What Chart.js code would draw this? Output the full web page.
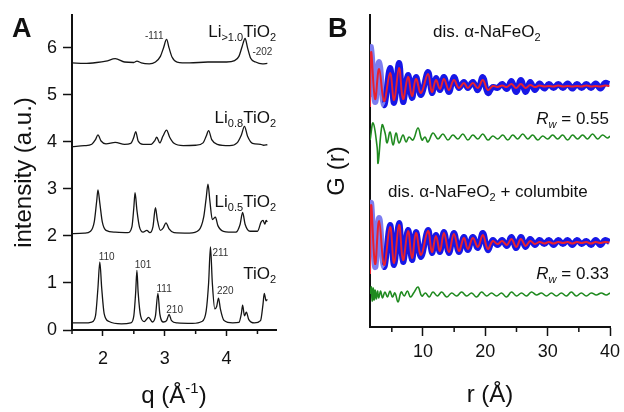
<!DOCTYPE html>
<html>
<head>
<meta charset="utf-8">
<script src="https://cdn.jsdelivr.net/npm/chart.js@4.4.1/dist/chart.umd.min.js"></script>
<style>
  html, body { margin: 0; padding: 0; background: #fff; }
  #wrap { position: relative; width: 624px; height: 412px; }
  canvas { position: absolute; top: 0; }
  #chartA { left: 0; }
  #chartB { left: 300px; }
</style>
</head>
<body>
<div id="wrap">
  <canvas id="chartA" width="300" height="412"></canvas>
  <canvas id="chartB" width="324" height="412"></canvas>
</div>
<script>
// ---- panel A : diffraction patterns (q in 1/Å, stacked intensity) ----
const tio2Q = [1.5,1.7,1.82,1.88,1.92,1.95,1.98,2.02,2.1,2.3,2.45,2.5,2.53,2.55,2.57,2.61,2.67,2.74,2.8,2.85,2.89,2.92,2.98,3.03,3.07,3.11,3.2,3.45,3.6,3.67,3.71,3.74,3.77,3.81,3.84,3.87,3.9,3.96,4.1,4.2,4.24,4.26,4.29,4.32,4.36,4.45,4.55,4.59,4.61,4.64,4.66];
const tio2I = [0.15,0.15,0.17,0.3,0.9,1.45,0.9,0.35,0.18,0.13,0.15,0.3,0.8,1.27,0.8,0.3,0.18,0.27,0.17,0.3,0.78,0.35,0.17,0.2,0.33,0.2,0.15,0.14,0.18,0.4,1.0,1.77,1.0,0.45,0.5,0.68,0.45,0.2,0.15,0.16,0.35,0.53,0.3,0.38,0.22,0.15,0.2,0.55,0.78,0.62,0.65];

const li05Q = [1.5,1.7,1.8,1.86,1.9,1.92,1.95,1.99,2.05,2.2,2.4,2.47,2.5,2.52,2.55,2.59,2.65,2.71,2.76,2.81,2.85,2.88,2.93,2.98,3.02,3.07,3.15,3.4,3.55,3.63,3.67,3.7,3.73,3.77,3.82,3.86,3.95,4.15,4.22,4.26,4.3,4.38,4.5,4.56,4.59,4.62,4.64,4.66];
const li05I = [2.05,2.06,2.1,2.3,2.75,2.98,2.7,2.3,2.12,2.08,2.07,2.2,2.6,2.92,2.55,2.2,2.08,2.12,2.07,2.2,2.6,2.35,2.12,2.18,2.28,2.15,2.07,2.06,2.12,2.4,2.8,3.1,2.75,2.35,2.4,2.22,2.1,2.08,2.25,2.5,2.25,2.1,2.1,2.3,2.33,2.25,2.33,2.3];

const li08Q = [1.5,1.7,1.82,1.88,1.92,1.97,2.05,2.2,2.35,2.45,2.5,2.53,2.57,2.65,2.78,2.84,2.87,2.92,2.97,3.03,3.08,3.15,3.3,3.5,3.62,3.67,3.71,3.76,3.85,4.05,4.17,4.24,4.29,4.34,4.42,4.55,4.6,4.66];
const li08I = [3.9,3.92,3.95,4.05,4.15,4.02,3.96,3.99,3.95,3.97,4.1,4.22,4.02,3.95,3.95,4.03,4.1,3.98,4.12,4.25,4.1,3.97,3.92,3.93,3.98,4.12,4.24,4.05,3.95,3.92,3.98,4.15,4.33,4.12,3.97,3.95,3.93,3.94];

const li10Q = [1.5,1.7,1.9,2.05,2.2,2.35,2.5,2.55,2.62,2.75,2.85,2.93,2.98,3.03,3.07,3.12,3.2,3.4,3.7,4.0,4.13,4.2,4.25,4.3,4.34,4.39,4.47,4.58,4.66];
const li10I = [5.68,5.67,5.69,5.72,5.77,5.7,5.69,5.72,5.68,5.66,5.7,5.82,6.0,6.18,6.0,5.8,5.7,5.68,5.7,5.7,5.73,5.82,6.02,6.2,6.0,5.78,5.7,5.66,5.67];

const qTicks = [1.5, 2, 2.5, 3, 3.5, 4, 4.5];
const intensityTicks = [0, 1, 2, 3, 4, 5, 6];

// ---- panel B : PDF G(r), data (blue), fit (red), difference (green), offset vertically ----
const rFit = [1.5,1.68,2.32,2.96,3.76,4.72,5.36,6.16,6.8,7.6,8.24,8.88,9.68,10.8,11.44,12.08,12.72,13.36,14.16,14.96,15.76,16.56,17.2,18.0,18.8,19.6,20.4,21.2,21.95,22.7,23.45,24.2,24.95,25.7,26.45,27.2,27.95,28.7,29.45,30.2,30.95,31.7,32.45,33.2,33.95,34.7,35.45,36.2,36.95,37.7,38.45,39.2,39.9];
const gTopData = [23.0,28.0,22.5,26.5,22.2,25.9,22.4,26.4,22.5,25.2,22.9,25.0,23.2,25.5,23.4,24.9,23.7,25.0,23.5,25.0,23.9,24.5,23.9,24.5,23.7,25.0,23.4,24.0,23.9,24.3,23.8,24.6,23.5,24.7,23.5,24.5,23.7,24.35,23.85,24.3,23.9,24.3,23.9,24.35,23.85,24.3,23.9,24.3,23.9,24.35,23.85,24.4,24.3];
const gTopFit = [22.0,27.5,22.8,25.8,22.6,25.4,22.7,25.9,22.8,25.0,23.1,24.8,23.4,25.3,23.5,24.7,23.8,24.8,23.7,24.7,23.9,24.4,23.9,24.4,23.9,24.7,23.7,24.1,24.0,24.15,24.0,24.3,23.9,24.3,23.9,24.2,24.0,24.15,24.05,24.1,24.05,24.15,24.05,24.1,24.05,24.1,24.05,24.15,24.05,24.1,24.05,24.15,24.1];
const gBotData = [8.0,12.4,6.0,10.9,6.0,10.2,6.2,10.4,6.5,9.7,6.7,9.5,7.0,9.7,7.4,9.2,7.5,9.5,7.4,9.4,7.5,9.0,7.7,9.0,7.9,9.4,7.7,8.7,8.2,8.7,8.1,9.0,7.9,9.0,8.0,8.8,8.2,8.7,8.3,8.7,8.2,8.7,8.3,8.7,8.2,8.7,8.3,8.6,8.2,8.7,8.2,8.7,8.5];
const gBotFit = [5.3,12.2,6.3,10.6,6.2,10.0,6.4,10.2,6.7,9.6,6.9,9.4,7.2,9.6,7.5,9.1,7.6,9.4,7.5,9.3,7.6,8.9,7.8,8.9,8.0,9.2,7.8,8.6,8.3,8.6,8.2,8.8,8.0,8.8,8.1,8.6,8.3,8.5,8.35,8.5,8.35,8.5,8.4,8.5,8.35,8.5,8.4,8.5,8.35,8.5,8.4,8.5,8.45];

const rDiffTop = [1.52,2.0,2.64,2.8,3.44,3.92,4.24,4.72,5.2,5.68,6.16,6.8,7.28,7.76,8.4,9.2,9.84,10.32,10.8,11.6,12.4,13.2,14.0,14.8,15.6,16.4,17.2,18.0,18.8,19.6,20.4,21.2,22.0,22.8,23.6,24.4,25.2,26.0,26.8,27.6,28.4,29.2,30.0,30.8,31.6,32.4,33.2,34.0,34.8,35.6,36.4,37.2,38.0,38.8,39.6,40.0];
const gDiffTop = [18.7,20.4,18.0,16.4,20.2,19.4,18.4,19.5,18.2,19.4,18.4,19.2,18.5,19.0,18.7,19.9,18.7,19.0,18.5,19.4,18.8,19.3,18.7,19.2,18.8,19.3,18.7,19.2,18.8,19.3,18.7,19.1,18.8,19.2,18.7,19.2,18.8,19.3,18.8,19.2,18.7,19.1,18.8,19.2,18.8,19.2,18.7,19.2,18.8,19.2,18.8,19.3,18.8,19.2,18.9,19.1];
const rDiffBot = [1.55,1.7,1.85,2.0,2.15,2.3,2.5,2.7,2.9,3.2,3.5,3.9,4.3,4.7,5.1,5.5,6.0,6.5,7.0,7.5,8.0,8.5,9.2,9.8,10.4,11.0,11.6,12.3,13.0,13.8,14.6,15.4,16.2,17.0,17.8,18.6,19.4,20.2,21.0,21.8,22.6,23.4,24.2,25.0,25.8,26.6,27.4,28.2,29.0,29.8,30.6,31.4,32.2,33.0,33.8,34.6,35.4,36.2,37.0,37.8,38.6,39.4,40.0];
const gDiffBot = [3.3,4.0,2.6,3.9,2.7,3.7,2.8,3.6,2.9,3.6,2.9,3.5,3.0,3.6,3.0,3.4,2.5,3.5,3.1,3.6,3.0,3.4,4.0,3.1,3.4,3.0,3.5,3.1,3.5,3.0,3.4,3.1,3.5,3.1,3.4,3.0,3.5,3.1,3.4,3.1,3.4,3.0,3.5,3.1,3.4,3.1,3.5,3.2,3.4,3.1,3.4,3.1,3.4,3.1,3.5,3.1,3.4,3.1,3.4,3.2,3.4,3.2,3.4];

const rTicks = [5, 10, 15, 20, 25, 30, 35, 40];

// ---- text annotations ----
const FAM = '"Liberation Sans", Arial, sans-serif';
const font = (size, style) => (style ? style + ' ' : '') + size + 'px ' + FAM;

Chart.defaults.font.family = FAM;
Chart.defaults.color = '#111';

const sampleNames = ['TiO_{2}', 'Li_{0.5}TiO_{2}', 'Li_{0.8}TiO_{2}', 'Li_{>1.0}TiO_{2}'];
const sampleNameI = [1.09, 2.62, 4.40, 6.23];
const hklLabels = ['110', '101', '111', '210', '211', '220', '-111', '-202'];
const hklQ = [2.06, 2.65, 2.99, 3.16, 3.90, 3.98, 2.83, 4.58];
const hklI = [1.49, 1.32, 0.81, 0.36, 1.57, 0.77, 6.19, 5.85];

const fitTitles = ['dis. α-NaFeO_{2}', 'dis. α-NaFeO_{2} + columbite'];
const fitTitleR = [11.6, 4.4];
const fitTitleG = [29.0, 13.0];
const rwValues = ['0.55', '0.33'];
const rwG = [20.3, 4.8];

// split "abc_{sub}^{sup}" into runs of text
function rich(s, big, small, style) {
  const runs = [];
  const re = /_\{([^}]*)\}|\^\{([^}]*)\}|([^_^]+)/g;
  let m;
  while ((m = re.exec(s))) {
    if (m[1] !== undefined) runs.push({ text: m[1], font: font(small, style), dy: Math.round(big * 0.25) });
    else if (m[2] !== undefined) runs.push({ text: m[2], font: font(small, style), dy: -Math.round(big * 0.42) });
    else runs.push({ text: m[3], font: font(big, style), dy: 0 });
  }
  return runs;
}

function drawRuns(ctx, runs, x, y, align) {
  let total = 0;
  runs.forEach(r => { ctx.font = r.font; r.w = ctx.measureText(r.text).width; total += r.w; });
  let cx = align === 'right' ? x - total : (align === 'center' ? x - total / 2 : x);
  ctx.textAlign = 'left';
  ctx.textBaseline = 'alphabetic';
  runs.forEach(r => {
    ctx.font = r.font;
    ctx.fillText(r.text, cx, y + (r.dy || 0));
    cx += r.w;
  });
}

// short minor ticks on a bottom axis (the library draws only the major ones)
function minorTicks(ctx, scale, values, len) {
  ctx.save();
  ctx.strokeStyle = '#111';
  ctx.lineWidth = 1.5;
  ctx.beginPath();
  values.forEach(v => {
    const px = scale.getPixelForValue(v);
    ctx.moveTo(px, scale.top);
    ctx.lineTo(px, scale.top + len);
  });
  ctx.stroke();
  ctx.restore();
}

const pts = (xs, ys) => xs.map((x, i) => ({ x: x, y: ys[i] }));
const ticksFrom = list => scale => { scale.ticks = list.map(v => ({ value: v })); };
// fixed axis box, no extra room for overhanging labels
const fixBox = (w, h) => s => {
  if (w) s.width = w;
  if (h) s.height = h;
  s.paddingLeft = s.paddingRight = s.paddingTop = s.paddingBottom = 0;
};

// ---- panel A ----
const isMajorQ = v => Number.isInteger(v);

const notesA = {
  id: 'notesA',
  afterDraw(chart) {
    const { ctx, chartArea, scales: { x, y } } = chart;
    minorTicks(ctx, x, qTicks.filter(v => !isMajorQ(v)), 4);
    ctx.save();
    ctx.fillStyle = '#111';
    drawRuns(ctx, [{ text: 'A', font: font(27, 'bold') }], 12, 37, 'left');
    sampleNames.forEach((name, k) => {
      drawRuns(ctx, rich(name, 17, 11), chartArea.right, y.getPixelForValue(sampleNameI[k]), 'right');
    });
    ctx.fillStyle = '#333';
    hklLabels.forEach((t, k) => {
      drawRuns(ctx, [{ text: t, font: font(10) }], x.getPixelForValue(hklQ[k]), y.getPixelForValue(hklI[k]), 'center');
    });
    ctx.fillStyle = '#111';
    drawRuns(ctx, rich('q (Å^{-1})', 24, 15), (chartArea.left + chartArea.right) / 2, 403, 'center');
    ctx.restore();
  }
};

const xrdLine = (xs, ys) => ({
  data: pts(xs, ys),
  borderColor: '#151515',
  borderWidth: 1.3,
  pointRadius: 0,
  cubicInterpolationMode: 'monotone'
});

new Chart(document.getElementById('chartA'), {
  type: 'line',
  data: {
    datasets: [
      xrdLine(tio2Q, tio2I),
      xrdLine(li05Q, li05I),
      xrdLine(li08Q, li08I),
      xrdLine(li10Q, li10I)
    ]
  },
  options: {
    responsive: false,
    animation: false,
    layout: { padding: { top: 15, right: 24, left: 0, bottom: 0 } },
    plugins: { legend: { display: false }, tooltip: { enabled: false } },
    scales: {
      x: {
        type: 'linear', min: 1.5, max: 4.8,
        afterBuildTicks: ticksFrom(qTicks),
        afterFit: fixBox(0, 82),
        ticks: {
          callback: v => (isMajorQ(v) ? v : ''),
          font: { size: 18 }, color: '#111', padding: 12, maxRotation: 0, autoSkip: false
        },
        grid: {
          drawOnChartArea: false, drawTicks: true, tickLength: 6, tickWidth: 1.5,
          tickColor: c => (c.tick && !isMajorQ(c.tick.value) ? 'rgba(0,0,0,0)' : '#111')
        },
        border: { display: true, color: '#111', width: 2 }
      },
      y: {
        min: 0, max: 6.7,
        afterBuildTicks: ticksFrom(intensityTicks),
        afterFit: fixBox(72, 0),
        ticks: { font: { size: 18 }, color: '#111', padding: 6 },
        grid: { drawOnChartArea: false, drawTicks: true, tickLength: 9, tickColor: '#111', tickWidth: 1.5 },
        border: { display: true, color: '#111', width: 2 },
        title: { display: true, text: 'intensity (a.u.)', font: { size: 24 }, color: '#111', padding: { top: 10, bottom: 0 } }
      }
    }
  },
  plugins: [notesA]
});

// ---- panel B ----
const isMajorR = v => v % 10 === 0;

const notesB = {
  id: 'notesB',
  afterDraw(chart) {
    const { ctx, chartArea, scales: { x, y } } = chart;
    minorTicks(ctx, x, rTicks.filter(v => !isMajorR(v)), 5);
    ctx.save();
    ctx.fillStyle = '#111';
    drawRuns(ctx, [{ text: 'B', font: font(27, 'bold') }], 28, 37, 'left');
    fitTitles.forEach((t, k) => {
      drawRuns(ctx, rich(t, 17, 11), x.getPixelForValue(fitTitleR[k]), y.getPixelForValue(fitTitleG[k]), 'left');
    });
    rwValues.forEach((v, k) => {
      const runs = [
        { text: 'R', font: font(17, 'italic') },
        { text: 'w', font: font(11, 'italic'), dy: 4 },
        { text: ' = ' + v, font: font(17) }
      ];
      drawRuns(ctx, runs, chartArea.right - 1, y.getPixelForValue(rwG[k]), 'right');
    });
    ctx.restore();
  }
};

// the measured points at short r are drawn as pale open rings in the figure
const pdfLine = (xs, ys, color, width, order, pale) => ({
  data: pts(xs, ys),
  borderColor: color,
  borderWidth: width,
  pointRadius: 0,
  tension: 0.4,
  order: order,
  segment: pale ? { borderColor: c => (c.p1.parsed.x < 3.8 ? pale : undefined) } : undefined
});

new Chart(document.getElementById('chartB'), {
  type: 'line',
  data: {
    datasets: [
      pdfLine(rFit, gTopFit, '#e8202f', 2, 0),
      pdfLine(rFit, gTopData, '#1717e6', 6, 1, '#7d7df0'),
      pdfLine(rDiffTop, gDiffTop, '#1f8a1f', 1.6, 2),
      pdfLine(rFit, gBotFit, '#e8202f', 2, 0),
      pdfLine(rFit, gBotData, '#1717e6', 6, 1, '#7d7df0'),
      pdfLine(rDiffBot, gDiffBot, '#1f8a1f', 1.6, 2)
    ]
  },
  options: {
    responsive: false,
    animation: false,
    layout: { padding: { top: 15, right: 14, left: 0, bottom: 0 } },
    plugins: { legend: { display: false }, tooltip: { enabled: false } },
    scales: {
      x: {
        type: 'linear', min: 1.5, max: 40,
        afterBuildTicks: ticksFrom(rTicks),
        afterFit: fixBox(0, 85),
        ticks: {
          callback: v => (isMajorR(v) ? v : ''),
          font: { size: 18 }, color: '#111', padding: 5, maxRotation: 0, autoSkip: false
        },
        grid: {
          drawOnChartArea: false, drawTicks: true, tickLength: 9, tickWidth: 1.5,
          tickColor: c => (c.tick && !isMajorR(c.tick.value) ? 'rgba(0,0,0,0)' : '#111')
        },
        border: { display: true, color: '#111', width: 2 },
        title: { display: true, text: 'r (Å)', font: { size: 24 }, color: '#111', padding: { top: 0, bottom: 2 } }
      },
      y: {
        min: 0, max: 31.2,
        afterFit: fixBox(70, 0),
        ticks: { display: false },
        grid: { display: false },
        border: { display: true, color: '#111', width: 2 },
        title: { display: true, text: 'G (r)', font: { size: 24 }, color: '#111', padding: { top: 23, bottom: 0 } }
      }
    }
  },
  plugins: [notesB]
});
</script>
</body>
</html>
